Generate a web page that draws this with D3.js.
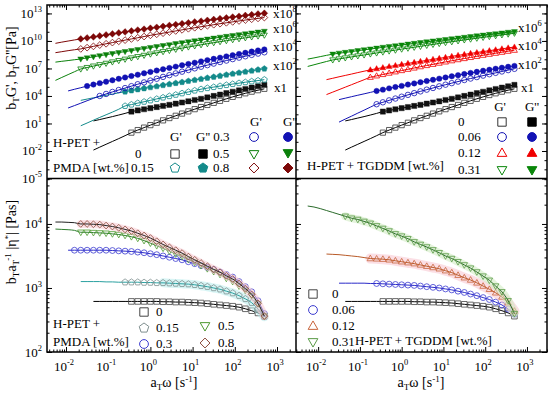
<!DOCTYPE html>
<html>
<head>
<meta charset="utf-8">
<script src="https://cdn.jsdelivr.net/npm/d3@7"></script>
<style>
body { margin: 0; background: #fff; }
svg text { font-family: "Liberation Serif", "Times New Roman", Times, "DejaVu Serif", serif; fill: #000; }
</style>
</head>
<body>
<svg id="chart" width="550" height="396"></svg>
<script>
const _ = null;
// log10 of the reduced frequency a_T*w, shared by every series below
const logW = [-2.4,-2.25,-2.1,-1.95,-1.8,-1.65,-1.5,-1.35,-1.2,-1.05,-0.9,-0.75,-0.6,-0.45,-0.3,-0.15,0,0.15,0.3,0.45,0.6,0.75,0.9,1.05,1.2,1.35,1.5,1.65,1.8,1.95,2.1,2.25,2.4,2.55,2.7];

// tick labels (exponents)
const xTickExp = [-2, -1, 0, 1, 2, 3];
const topYTickExp = [-5, -2, 1, 4, 7, 10, 13];
const botYTickExp = [2, 3, 4];

// ---- moduli, log10(Pa), before vertical shift ----
// neat H-PET (0 wt.%)
const g1_0     = [_,_,_,_,_,_,_,_,_,_,_,_,_,0.0,0.28,0.55,0.82,1.08,1.34,1.59,1.84,2.08,2.32,2.56,2.79,3.02,3.25,3.47,3.69,3.90,4.10,4.29,4.47,4.63,4.78];
const g1_0fit  = [_,_,_,_,_,_,_,-1.9,-1.58,-1.27,-0.96,-0.65,-0.33];
const g2_0     = [_,_,_,_,_,_,_,_,_,_,_,_,_,2.30,2.42,2.55,2.67,2.79,2.91,3.03,3.16,3.29,3.42,3.56,3.69,3.84,4.0,4.15,4.31,4.46,4.61,4.76,4.91,5.06,5.21];
const g2_0fit  = [_,_,_,_,_,_,_,1.28,1.43,1.59,1.75,1.92,2.10];
// PMDA 0.15
const g1_p015    = [_,_,_,_,_,_,_,_,_,_,_,_,0.91,1.06,1.22,1.37,1.52,1.68,1.83,1.98,2.13,2.29,2.44,2.59,2.74,2.86,2.97,3.08,3.19,3.30,3.40,3.50,3.59,3.68,3.78];
const g1_p015fit = [_,_,_,_,_,-1.25,-0.95,-0.64,-0.34,-0.05,0.24,0.55];
const g2_p015    = [_,_,_,_,_,_,_,_,_,_,_,_,2.47,2.59,2.71,2.82,2.94,3.05,3.17,3.28,3.40,3.51,3.63,3.74,3.85,3.97,4.08,4.19,4.31,4.42,4.53,4.64,4.75,4.86,4.97];
const g2_p015fit = [_,_,_,_,_,1.52,1.66,1.80,1.93,2.07,2.20,2.34];
// PMDA 0.3
const g1_p03    = [_,_,_,_,_,_,_,_,0.0,0.22,0.44,0.65,0.86,1.07,1.28,1.48,1.68,1.88,2.08,2.27,2.46,2.65,2.83,3.01,3.19,3.36,3.53,3.70,3.86,4.02,4.18,4.33,4.48,4.62,4.76];
const g1_p03fit = [_,_,_,-1.31,-1.05,-0.79,-0.52,-0.26];
const g2_p03    = [_,_,_,_,_,_,1.08,1.24,1.40,1.56,1.71,1.87,2.02,2.17,2.32,2.47,2.62,2.77,2.91,3.06,3.20,3.35,3.49,3.63,3.77,3.91,4.05,4.18,4.32,4.45,4.58,4.71,4.84,4.96,5.08];
const g2_p03fit = [_,_,_,0.55,0.73,0.90];
// PMDA 0.5
const g1_p05    = [_,_,_,_,_,0.94,1.10,1.26,1.41,1.56,1.71,1.86,2.01,2.15,2.29,2.43,2.57,2.70,2.83,2.96,3.09,3.22,3.34,3.46,3.58,3.70,3.81,3.92,4.03,4.14,4.24,4.34,4.44,4.54,4.63];
const g1_p05fit = [_,-0.30,0.02,0.33,0.64];
const g2_p05    = [_,_,_,_,_,2.03,2.15,2.27,2.39,2.50,2.62,2.73,2.84,2.95,3.06,3.17,3.28,3.38,3.49,3.59,3.70,3.80,3.90,4.00,4.10,4.20,4.30,4.40,4.49,4.59,4.68,4.77,4.87,4.96,5.05];
const g2_p05fit = [_,1.69,1.78,1.86,1.95];
// PMDA 0.8
const g1_p08    = [_,_,_,_,_,1.13,1.27,1.41,1.55,1.69,1.82,1.96,2.09,2.22,2.35,2.48,2.61,2.73,2.85,2.97,3.09,3.21,3.33,3.44,3.55,3.66,3.77,3.88,3.98,4.08,4.18,4.28,4.37,4.46,4.55];
const g1_p08fit = [_,0.72,0.83,0.94,1.04];
const g2_p08    = [_,_,_,_,_,2.22,2.33,2.44,2.55,2.66,2.77,2.88,2.98,3.09,3.19,3.29,3.39,3.49,3.59,3.69,3.79,3.88,3.98,4.07,4.16,4.25,4.34,4.43,4.52,4.61,4.69,4.78,4.86,4.94,5.02];
const g2_p08fit = [_,1.74,1.87,1.99,2.11];
// TGDDM 0.06
const g1_t006    = [_,_,_,_,_,_,_,_,_,_,_,_,1.10,1.31,1.52,1.72,1.92,2.12,2.31,2.50,2.69,2.87,3.05,3.23,3.40,3.57,3.74,3.90,4.06,4.22,4.37,4.52,4.67,4.82,4.96];
const g1_t006fit = [_,_,_,_,_,_,-0.85,-0.52,-0.20,0.13,0.45,0.78];
const g2_t006    = [_,_,_,_,_,_,_,_,_,_,_,_,2.55,2.69,2.83,2.97,3.10,3.24,3.37,3.50,3.63,3.76,3.89,4.02,4.14,4.27,4.39,4.51,4.63,4.75,4.86,4.97,5.08,5.18,5.28];
const g2_t006fit = [_,_,_,_,_,_,1.60,1.76,1.92,2.08,2.23,2.39];
// TGDDM 0.12
const g1_t012    = [_,_,_,_,_,_,_,_,_,_,_,2.04,2.19,2.34,2.49,2.63,2.77,2.91,3.05,3.19,3.32,3.45,3.58,3.71,3.84,3.96,4.08,4.20,4.32,4.44,4.55,4.66,4.77,4.88,4.99];
const g1_t012fit = [_,_,_,_,0.15,0.42,0.69,0.96,1.23,1.50,1.77];
const g2_t012    = [_,_,_,_,_,_,_,_,_,_,_,2.85,2.97,3.09,3.21,3.32,3.44,3.55,3.66,3.77,3.88,3.99,4.10,4.21,4.32,4.43,4.53,4.64,4.74,4.84,4.94,5.04,5.14,5.24,5.34];
const g2_t012fit = [_,_,_,_,1.78,1.93,2.09,2.24,2.39,2.55,2.70];
// TGDDM 0.31
const g1_t031    = [_,_,_,_,_,1.93,2.04,2.15,2.26,2.37,2.47,2.58,2.69,2.79,2.90,3.00,3.11,3.21,3.31,3.41,3.52,3.62,3.72,3.82,3.91,4.01,4.11,4.20,4.30,4.39,4.48,4.57,4.66,4.75,4.84];
const g1_t031fit = [_,1.22,1.40,1.58,1.76];
const g2_t031    = [_,_,_,_,_,2.56,2.66,2.75,2.84,2.94,3.03,3.12,3.21,3.30,3.39,3.47,3.56,3.65,3.73,3.82,3.90,3.99,4.07,4.15,4.23,4.31,4.39,4.47,4.55,4.63,4.71,4.78,4.86,4.94,5.01];
const g2_t031fit = [_,2.02,2.15,2.29,2.43];

// ---- complex viscosity, log10(Pa s) ----
const eta_0      = [_,_,_,_,_,_,_,_,_,_,_,_,_,2.79,2.79,2.79,2.79,2.79,2.785,2.785,2.78,2.78,2.775,2.77,2.765,2.755,2.745,2.735,2.725,2.715,2.70,2.675,2.645,2.61,2.56];
const eta_0fit   = [_,_,_,_,_,_,_,2.79,2.79,2.79,2.79,2.79,2.79];
const eta_p015    = [_,_,_,_,_,_,_,_,_,_,_,_,3.09,3.09,3.09,3.085,3.085,3.08,3.08,3.075,3.07,3.065,3.06,3.05,3.035,3.02,3.0,2.98,2.95,2.92,2.88,2.83,2.77,2.67,2.55];
const eta_p015fit = [_,_,_,_,_,3.1,3.1,3.1,3.1,3.095,3.095,3.09];
const eta_p03    = [_,_,_,_,3.59,3.59,3.59,3.59,3.59,3.59,3.585,3.58,3.575,3.57,3.56,3.55,3.535,3.52,3.50,3.48,3.46,3.44,3.41,3.38,3.35,3.32,3.29,3.25,3.21,3.17,3.10,3.02,2.94,2.80,2.60];
const eta_p03fit = [_,_,_,3.59];
const eta_p05    = [_,_,_,_,_,3.87,3.87,3.865,3.86,3.855,3.845,3.835,3.82,3.80,3.775,3.74,3.70,3.66,3.62,3.575,3.53,3.49,3.445,3.40,3.35,3.30,3.255,3.21,3.15,3.10,3.03,2.96,2.88,2.75,2.56];
const eta_p05fit = [_,3.92,3.915,3.91,3.90];
const eta_p08    = [_,_,_,_,_,4.0,4.0,3.995,3.99,3.975,3.96,3.94,3.915,3.89,3.855,3.82,3.78,3.73,3.68,3.635,3.59,3.545,3.49,3.44,3.39,3.34,3.29,3.245,3.19,3.14,3.07,2.99,2.90,2.76,2.56];
const eta_p08fit = [_,4.03,4.03,4.025,4.02];
const eta_t006    = [_,_,_,_,_,_,_,_,_,_,_,_,3.07,3.065,3.06,3.055,3.05,3.045,3.04,3.03,3.02,3.01,3.0,2.985,2.97,2.95,2.93,2.905,2.88,2.85,2.82,2.78,2.735,2.67,2.59];
const eta_t006fit = [_,_,_,_,_,_,3.075,3.075,3.075,3.075,3.075,3.07];
const eta_t012    = [_,_,_,_,_,_,_,_,_,_,_,3.46,3.455,3.45,3.44,3.425,3.41,3.395,3.38,3.36,3.34,3.32,3.30,3.27,3.24,3.20,3.16,3.125,3.08,3.03,2.98,2.925,2.86,2.77,2.64];
const eta_t012fit = [_,_,_,_,3.53,3.525,3.52,3.51,3.50,3.49,3.475];
const eta_t031    = [_,_,_,_,_,_,_,4.12,4.09,4.07,4.04,4.01,3.97,3.93,3.89,3.845,3.81,3.77,3.72,3.68,3.64,3.595,3.55,3.50,3.46,3.41,3.36,3.31,3.25,3.185,3.12,3.03,2.94,2.80,2.60];
const eta_t031fit = [_,4.28,4.265,4.24,4.21,4.18,4.15];

const FONT = "'Liberation Serif', 'Times New Roman', Times, serif";
const svg = d3.select("#chart").style("font-family", FONT);

// panel frame
const X0 = 47, XM = 296, X1 = 547, Y0 = 5, YM = 178.5, Y1 = 352;

const xLeft = d3.scaleLog().domain([10 ** -2.45, 10 ** 3.45]).range([X0, XM]);
const xRight = d3.scaleLog().domain([10 ** -2.53, 10 ** 3.48]).range([XM, X1]);
const yTop = d3.scaleLog().domain([1e-5, 10 ** 13.92]).range([YM, Y0]);
const yBot = d3.scaleLog().domain([1e2, 10 ** 4.71]).range([Y1, YM]);

// clip paths for each panel
const defs = svg.append("defs");
[["cTL", X0, Y0, XM, YM], ["cTR", XM, Y0, X1, YM], ["cBL", X0, YM, XM, Y1], ["cBR", XM, YM, X1, Y1]].forEach(c => {
    defs.append("clipPath").attr("id", c[0]).append("rect")
        .attr("x", c[1]).attr("y", c[2]).attr("width", c[3] - c[1]).attr("height", c[4] - c[2]);
});

function shapePath(shape, r) {
    if (shape === "square") return `M${-r},${-r}h${2 * r}v${2 * r}h${-2 * r}Z`;
    if (shape === "circle") return d3.symbol(d3.symbolCircle, Math.PI * r * r * 1.1)();
    if (shape === "up") return `M0,${-r * 1.2}L${r * 1.15},${r * 0.8}L${-r * 1.15},${r * 0.8}Z`;
    if (shape === "down") return `M0,${r * 1.2}L${r * 1.15},${-r * 0.8}L${-r * 1.15},${-r * 0.8}Z`;
    if (shape === "diamond") return `M0,${-r * 1.3}L${r * 1.3},0L0,${r * 1.3}L${-r * 1.3},0Z`;
    // pentagon
    const p = d3.range(5).map(k => {
        const a = -Math.PI / 2 + k * 2 * Math.PI / 5;
        return [(r * 1.2 * Math.cos(a)).toFixed(2), (r * 1.2 * Math.sin(a)).toFixed(2)];
    });
    return "M" + p.join("L") + "Z";
}

// points of a series: keep non-null slots
function seriesPts(vals, shift) {
    const out = [];
    logW.forEach((w, i) => {
        const v = vals[i];
        if (v != null) out.push([10 ** w, 10 ** (v + shift)]);
    });
    return out;
}
// fit line: leading part then through the data
function fitPts(lead, vals, shift) {
    const out = [];
    logW.forEach((w, i) => {
        const v = lead[i] != null ? lead[i] : vals[i];
        if (v != null) out.push([10 ** w, 10 ** (v + shift)]);
    });
    return out;
}

function drawSeries(clip, xs, ys, s) {
    const g = svg.append("g").attr("clip-path", `url(#${clip})`);
    const line = d3.line().curve(d3.curveMonotoneX).x(d => xs(d[0])).y(d => ys(d[1]));
    const pts = seriesPts(s.vals, s.shift);
    if (s.band) {
        // faint scatter band of overlapping temperatures behind the data
        g.append("path").datum(pts.slice(s.bandFrom || 0))
            .attr("d", line).attr("fill", "none")
            .attr("stroke", s.band).attr("stroke-width", s.bandWidth || 9)
            .attr("stroke-linecap", "round").attr("opacity", 0.55);
    }
    g.append("path").datum(fitPts(s.lead, s.vals, s.shift))
        .attr("d", line).attr("fill", "none")
        .attr("stroke", s.line).attr("stroke-width", 1);
    g.selectAll(null).data(pts).enter().append("path")
        .attr("transform", d => `translate(${xs(d[0])},${ys(d[1])})`)
        .attr("d", shapePath(s.shape, s.r || 2.6))
        .attr("fill", s.filled ? s.color : "none")
        .attr("stroke", s.color).attr("stroke-width", s.filled ? 0.4 : 0.8);
}

// ---- top left: H-PET + PMDA ----
const colBlack = "#111", colTeal = "#138a8a", colBlue = "#1212b4", colGreen = "#0b800b", colDRed = "#7d0808";
const topLeftSeries = [
    { vals: g1_0, lead: g1_0fit, shift: 0, shape: "square", color: "#333", line: "#000" },
    { vals: g2_0, lead: g2_0fit, shift: 0, shape: "square", color: colBlack, line: "#000", filled: true },
    { vals: g1_p015, lead: g1_p015fit, shift: 2, shape: "pentagon", color: colTeal, line: colTeal },
    { vals: g2_p015, lead: g2_p015fit, shift: 2, shape: "pentagon", color: colTeal, line: colTeal, filled: true },
    { vals: g1_p03, lead: g1_p03fit, shift: 4, shape: "circle", color: colBlue, line: colBlue },
    { vals: g2_p03, lead: g2_p03fit, shift: 4, shape: "circle", color: colBlue, line: colBlue, filled: true },
    { vals: g1_p05, lead: g1_p05fit, shift: 6, shape: "down", color: colGreen, line: colGreen },
    { vals: g2_p05, lead: g2_p05fit, shift: 6, shape: "down", color: colGreen, line: colGreen, filled: true },
    { vals: g1_p08, lead: g1_p08fit, shift: 8, shape: "diamond", color: colDRed, line: colDRed },
    { vals: g2_p08, lead: g2_p08fit, shift: 8, shape: "diamond", color: colDRed, line: colDRed, filled: true }
];
topLeftSeries.forEach(s => drawSeries("cTL", xLeft, yTop, s));

// ---- top right: H-PET + TGDDM ----
const colRed = "#f00000", colGreen2 = "#0a860a";
const topRightSeries = [
    { vals: g1_0, lead: g1_0fit, shift: 0, shape: "square", color: "#333", line: "#000" },
    { vals: g2_0, lead: g2_0fit, shift: 0, shape: "square", color: colBlack, line: "#000", filled: true },
    { vals: g1_t006, lead: g1_t006fit, shift: 2, shape: "circle", color: colBlue, line: colBlue },
    { vals: g2_t006, lead: g2_t006fit, shift: 2, shape: "circle", color: colBlue, line: colBlue, filled: true },
    { vals: g1_t012, lead: g1_t012fit, shift: 4, shape: "up", color: colRed, line: colRed },
    { vals: g2_t012, lead: g2_t012fit, shift: 4, shape: "up", color: colRed, line: colRed, filled: true },
    { vals: g1_t031, lead: g1_t031fit, shift: 6, shape: "down", color: colGreen2, line: colGreen2 },
    { vals: g2_t031, lead: g2_t031fit, shift: 6, shape: "down", color: colGreen2, line: colGreen2, filled: true }
];
topRightSeries.forEach(s => drawSeries("cTR", xRight, yTop, s));

// ---- bottom left: viscosity, PMDA ----
const botLeftSeries = [
    { vals: eta_0, lead: eta_0fit, shift: 0, shape: "square", color: "#444", line: "#000", r: 2.8 },
    { vals: eta_p015, lead: eta_p015fit, shift: 0, shape: "pentagon", color: "#7f8f8f", line: "#2aa0a0", r: 2.8, band: "#b8ecec", bandFrom: 6 },
    { vals: eta_p03, lead: eta_p03fit, shift: 0, shape: "circle", color: "#3c3cd0", line: "#2a2ac8", r: 2.8 },
    { vals: eta_p05, lead: eta_p05fit, shift: 0, shape: "down", color: "#4e9a30", line: "#2e7d2e", r: 2.8 },
    { vals: eta_p08, lead: eta_p08fit, shift: 0, shape: "diamond", color: "#8a4a3a", line: "#222", r: 2.6, band: "#f7c9d2", bandWidth: 8 }
];
botLeftSeries.forEach(s => drawSeries("cBL", xLeft, yBot, s));

// ---- bottom right: viscosity, TGDDM ----
const botRightSeries = [
    { vals: eta_0, lead: eta_0fit, shift: 0, shape: "square", color: "#444", line: "#000", r: 2.8 },
    { vals: eta_t006, lead: eta_t006fit, shift: 0, shape: "circle", color: "#3c3cd0", line: "#2a2ac8", r: 2.8 },
    { vals: eta_t012, lead: eta_t012fit, shift: 0, shape: "up", color: "#c8643c", line: "#b85a28", r: 2.8, band: "#f8c4cf", bandWidth: 10 },
    { vals: eta_t031, lead: eta_t031fit, shift: 0, shape: "down", color: "#5a9a46", line: "#2a6a2a", r: 2.8, band: "#cdeac0", bandWidth: 8 }
];
botRightSeries.forEach(s => drawSeries("cBR", xRight, yBot, s));

// ---- axes ----
function minorTicks(scale, lo, hi) {
    const out = [];
    for (let e = lo; e <= hi; e++) for (let m = 2; m < 10; m++) {
        const v = m * 10 ** e;
        if (v > scale.domain()[0] && v < scale.domain()[1]) out.push(v);
    }
    return out;
}
function supText(x, y, base, exp, anchor, fs) {
    const t = svg.append("text").attr("x", x).attr("y", y)
        .attr("text-anchor", anchor).attr("font-size", fs).style("font-family", FONT);
    t.append("tspan").text(base);
    t.append("tspan").attr("dy", -fs * 0.45).attr("font-size", fs * 0.65).text(exp);
    return t;
}

[xLeft, xRight].forEach(xs => {
    const major = xTickExp.map(e => 10 ** e);
    const minor = minorTicks(xs, -3, 3);
    [[Y1, d3.axisBottom], [Y0, d3.axisTop]].forEach(([yy, ax]) => {
        svg.append("g").attr("transform", `translate(0,${yy})`)
            .call(ax(xs).tickValues(major).tickSize(-5).tickFormat(""))
            .call(g => g.select(".domain").remove());
        svg.append("g").attr("transform", `translate(0,${yy})`)
            .call(ax(xs).tickValues(minor).tickSize(-2.5).tickFormat(""))
            .call(g => g.select(".domain").remove());
    });
    xTickExp.forEach(e => supText(xs(10 ** e) - 2, 371, "10", String(e), "middle", 13));
});

// y axes (left of both columns, right edge)
[[X0, d3.axisLeft], [XM, d3.axisLeft], [X1, d3.axisRight]].forEach(([xx, ax]) => {
    const topMinor = d3.range(-5, 14).map(e => 10 ** e);
    svg.append("g").attr("transform", `translate(${xx},0)`)
        .call(ax(yTop).tickValues(topYTickExp.map(e => 10 ** e)).tickSize(-5).tickFormat(""))
        .call(g => g.select(".domain").remove());
    svg.append("g").attr("transform", `translate(${xx},0)`)
        .call(ax(yTop).tickValues(topMinor).tickSize(-2.5).tickFormat(""))
        .call(g => g.select(".domain").remove());
    svg.append("g").attr("transform", `translate(${xx},0)`)
        .call(ax(yBot).tickValues(botYTickExp.map(e => 10 ** e)).tickSize(-5).tickFormat(""))
        .call(g => g.select(".domain").remove());
    svg.append("g").attr("transform", `translate(${xx},0)`)
        .call(ax(yBot).tickValues(minorTicks(yBot, 2, 4)).tickSize(-2.5).tickFormat(""))
        .call(g => g.select(".domain").remove());
});
topYTickExp.forEach(e => supText(42, yTop(10 ** e) + 4.5, "10", String(e), "end", 13));
botYTickExp.forEach(e => supText(42, yBot(10 ** e) + 4.5, "10", String(e), "end", 13));

// frame
svg.append("rect").attr("x", X0).attr("y", Y0).attr("width", X1 - X0).attr("height", Y1 - Y0)
    .attr("fill", "none").attr("stroke", "#000").attr("stroke-width", 1.5);
svg.append("line").attr("x1", X0).attr("x2", X1).attr("y1", YM).attr("y2", YM)
    .attr("stroke", "#000").attr("stroke-width", 1.5);
svg.append("line").attr("x1", XM).attr("x2", XM).attr("y1", Y0).attr("y2", Y1)
    .attr("stroke", "#000").attr("stroke-width", 1.5);

// axis titles
function richText(x, y, rotate, parts, fs) {
    const t = svg.append("text").attr("text-anchor", "middle").attr("font-size", fs)
        .style("font-family", FONT)
        .attr("transform", `translate(${x},${y})` + (rotate ? " rotate(-90)" : ""));
    let shift = 0;
    parts.forEach(p => {
        const target = p[1] === "sub" ? 3 : p[1] === "sup" ? -5 : 0;
        const ts = t.append("tspan").attr("dy", target - shift).text(p[0]);
        if (p[1]) ts.attr("font-size", fs * 0.65);
        shift = target;
    });
    return t;
}
richText(16, 68, true, [["b"], ["T", "sub"], ["G', b"], ["T", "sub"], ["G''[Pa]"]], 14);
richText(16, 242, true, [["b"], ["T", "sub"], ["a"], ["T", "sub"], ["-1", "sup"], [" |\u03b7"], ["*", "sup"], ["| [Pas]"]], 14);
richText(174, 387, false, [["a"], ["T", "sub"], ["\u03c9 [s"], ["-1", "sup"], ["]"]], 14);
richText(421, 387, false, [["a"], ["T", "sub"], ["\u03c9 [s"], ["-1", "sup"], ["]"]], 14);

// shift factor labels
const leftShiftLabels = ["8", "6", "4", "2", ""];
const rightShiftLabels = ["6", "4", "2", ""];
const leftShiftY = [18, 33, 51, 70, 92];
const rightShiftY = [32, 50, 69, 92];
leftShiftLabels.forEach((e, i) => {
    if (e) supText(273, leftShiftY[i], "x10", e, "start", 13);
    else supText(274, leftShiftY[i], "x1", "", "start", 13);
});
rightShiftLabels.forEach((e, i) => {
    if (e) supText(518, rightShiftY[i], "x10", e, "start", 13);
    else supText(521, rightShiftY[i], "x1", "", "start", 13);
});

// ---- legends ----
function txt(x, y, s, anchor) {
    svg.append("text").attr("x", x).attr("y", y).attr("font-size", 13)
        .style("font-family", FONT)
        .attr("text-anchor", anchor || "start").text(s);
}
function mark(x, y, shape, color, filled, r) {
    svg.append("path").attr("transform", `translate(${x},${y})`)
        .attr("d", shapePath(shape, r || 4.2))
        .attr("fill", filled ? color : "none").attr("stroke", color).attr("stroke-width", 1);
}
// top left
txt(53, 147, "H-PET +");
txt(53, 172, "PMDA [wt.%]");
txt(170, 141, "G'");
txt(196, 141, "G'' 0.3");
txt(250, 126, "G'");
txt(283, 126, "G''");
txt(135, 158, "0");
txt(131, 172, "0.15");
txt(213, 158, "0.5");
txt(213, 172, "0.8");
mark(175, 154, "square", "#333", false);
mark(175, 168, "pentagon", colTeal, false);
mark(203, 154, "square", "#000", true);
mark(203, 168, "pentagon", colTeal, true);
mark(254, 137, "circle", colBlue, false);
mark(254, 154, "down", colGreen, false);
mark(254, 168, "diamond", colDRed, false, 3.8);
mark(288, 137, "circle", colBlue, true);
mark(288, 153, "down", colGreen, true);
mark(288, 168, "diamond", colDRed, true, 3.8);
// top right
txt(500, 111, "G'", "middle");
txt(532, 111, "G''", "middle");
txt(458, 126, "0");
txt(458, 141, "0.06");
txt(458, 157, "0.12");
txt(458, 174, "0.31");
txt(307, 170, "H-PET + TGDDM [wt.%]");
mark(502, 122, "square", "#333", false);
mark(502, 137, "circle", colBlue, false);
mark(502, 153, "up", colRed, false);
mark(502, 170, "down", colGreen2, false);
mark(532, 122, "square", "#000", true);
mark(532, 137, "circle", colBlue, true);
mark(532, 153, "up", colRed, true);
mark(532, 170, "down", colGreen2, true);
// bottom left
txt(53, 328, "H-PET +");
txt(53, 346, "PMDA [wt.%]");
mark(144, 312, "square", "#444", false);
mark(144, 328, "pentagon", "#7f8f8f", false);
mark(144, 344, "circle", "#3c3cd0", false);
mark(205, 326, "down", "#4e9a30", false);
mark(205, 343, "diamond", "#8a4a3a", false, 3.8);
txt(156, 316, "0");
txt(156, 332, "0.15");
txt(156, 348, "0.3");
txt(218, 330, "0.5");
txt(218, 347, "0.8");
// bottom right
mark(313, 294, "square", "#444", false);
mark(313, 310, "circle", "#3c3cd0", false);
mark(313, 326, "up", "#c8643c", false);
mark(313, 342, "down", "#5a9a46", false);
txt(332, 298, "0");
txt(332, 314, "0.06");
txt(332, 330, "0.12");
txt(332, 346, "0.31");
txt(355, 345, "H-PET + TGDDM [wt.%]");
</script>
</body>
</html>
